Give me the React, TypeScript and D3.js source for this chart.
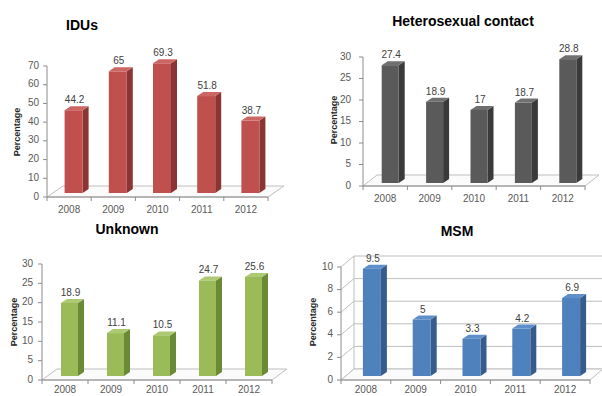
import React from "react";
import * as d3 from "d3";

const years = ["2008", "2009", "2010", "2011", "2012"];
const iduValues = [44.2, 65, 69.3, 51.8, 38.7];
const heteroValues = [27.4, 18.9, 17, 18.7, 28.8];
const unknownValues = [18.9, 11.1, 10.5, 24.7, 25.6];
const msmValues = [9.5, 5, 3.3, 4.2, 6.9];
const iduTicks = [0, 10, 20, 30, 40, 50, 60, 70];
const heteroTicks = [0, 5, 10, 15, 20, 25, 30];
const unknownTicks = [0, 5, 10, 15, 20, 25, 30];
const msmTicks = [0, 2, 4, 6, 8, 10];
const titles = ["IDUs", "Heterosexual contact", "Unknown", "MSM"];

type Colors = { front: string; side: string; top: string };

type PanelProps = {
  title: string;
  values: number[];
  ticks: number[];
  titleX: number;
  titleY: number;
  x0: number;
  x1: number;
  y0: number;
  yTop: number;
  depth: [number, number];
  barShift: [number, number];
  barWidth: number;
  labelRight: number;
  pctX: number;
  pctY: number;
  xLabelY: number;
  colors: Colors;
  grid?: boolean;
  gridRight?: number;
};

const FONT = "'Liberation Sans', Arial, sans-serif";

function Panel(p: PanelProps) {
  const y = d3
    .scaleLinear()
    .domain([0, p.ticks[p.ticks.length - 1]])
    .range([p.y0, p.yTop]);
  const x = d3.scaleBand<string>().domain(years).range([p.x0, p.x1]).padding(0);
  const [dx, dy] = p.depth;
  const bd: [number, number] = [6, -4];
  const axisColor = "#8c8c8c";
  const floorColor = "#bfbfbf";
  return (
    <g>
      <text
        x={p.titleX}
        y={p.titleY}
        textAnchor="middle"
        dominantBaseline="middle"
        fontFamily={FONT}
        fontWeight="bold"
        fontSize={14}
        fill="#000"
      >
        {p.title}
      </text>
      {p.grid &&
        p.ticks.map((t) => (
          <polyline
            key={"g" + t}
            points={`${p.x0},${y(t)} ${p.x0 + dx},${y(t) + dy} ${p.gridRight},${y(t) + dy}`}
            fill="none"
            stroke={floorColor}
            strokeWidth={1}
          />
        ))}
      {p.grid && (
        <line
          x1={p.x0 + dx}
          x2={p.x0 + dx}
          y1={y(0) + dy}
          y2={y(p.ticks[p.ticks.length - 1]) + dy}
          stroke={floorColor}
        />
      )}
      <polygon
        points={`${p.x0},${p.y0} ${p.x1},${p.y0} ${p.x1 + dx},${p.y0 + dy} ${p.x0 + dx},${p.y0 + dy}`}
        fill="#fbfbfb"
        stroke={floorColor}
        strokeWidth={1}
      />
      <line x1={p.x0} x2={p.x0} y1={p.y0} y2={p.yTop} stroke={axisColor} />
      {p.ticks.map((t) => (
        <g key={"t" + t}>
          <line x1={p.x0 - 4} x2={p.x0} y1={y(t)} y2={y(t)} stroke={axisColor} />
          <text
            x={p.labelRight}
            y={y(t)}
            textAnchor="end"
            dominantBaseline="middle"
            fontFamily={FONT}
            fontSize={10}
            fill="#595959"
          >
            {t}
          </text>
        </g>
      ))}
      <text
        transform={`translate(${p.pctX},${p.pctY}) rotate(-90)`}
        textAnchor="middle"
        dominantBaseline="middle"
        fontFamily={FONT}
        fontWeight="bold"
        fontSize={9}
        fill="#262626"
      >
        Percentage
      </text>
      <line x1={p.x0} x2={p.x1} y1={p.y0} y2={p.y0} stroke={axisColor} />
      {years.map((yr) => (
        <line
          key={"xt" + yr}
          x1={x(yr)!}
          x2={x(yr)!}
          y1={p.y0}
          y2={p.y0 + 4}
          stroke={axisColor}
        />
      ))}
      <line x1={p.x1} x2={p.x1} y1={p.y0} y2={p.y0 + 4} stroke={axisColor} />
      {years.map((yr) => (
        <text
          key={"xl" + yr}
          x={x(yr)! + x.bandwidth() / 2}
          y={p.xLabelY}
          textAnchor="middle"
          dominantBaseline="middle"
          fontFamily={FONT}
          fontSize={10}
          fill="#595959"
        >
          {yr}
        </text>
      ))}
      {p.values.map((v, i) => {
        const cx = x(years[i])! + x.bandwidth() / 2 + p.barShift[0];
        const w = p.barWidth;
        const left = cx - w / 2;
        const right = cx + w / 2;
        const top = y(v) + p.barShift[1];
        const bottom = y(0) + p.barShift[1];
        return (
          <g key={"b" + i}>
            <polygon
              points={`${right},${top} ${right + bd[0]},${top + bd[1]} ${right + bd[0]},${bottom + bd[1]} ${right},${bottom}`}
              fill={p.colors.side}
            />
            <polygon
              points={`${left},${top} ${left + bd[0]},${top + bd[1]} ${right + bd[0]},${top + bd[1]} ${right},${top}`}
              fill={p.colors.top}
            />
            <rect x={left} y={top} width={w} height={bottom - top} fill={p.colors.front} />
            <text
              x={cx + 1}
              y={top + bd[1] - 3}
              textAnchor="middle"
              fontFamily={FONT}
              fontSize={10}
              fill="#404040"
            >
              {v}
            </text>
          </g>
        );
      })}
    </g>
  );
}

export default function App() {
  return (
    <svg
      width={602}
      height={396}
      style={{ position: "absolute", left: 0, top: 0, background: "#fff" }}
    >
      <rect width={602} height={396} fill="#fff" />
      <Panel
        title={titles[0]}
        values={iduValues}
        ticks={iduTicks}
        titleX={82}
        titleY={26}
        x0={47}
        x1={268}
        y0={197}
        yTop={66}
        depth={[16, -11]}
        barShift={[4.5, -4]}
        barWidth={18}
        labelRight={39}
        pctX={18}
        pctY={132}
        xLabelY={210}
        colors={{ front: "#C0504D", side: "#8A3533", top: "#CC6663" }}
      />
      <Panel
        title={titles[1]}
        values={heteroValues}
        ticks={heteroTicks}
        titleX={463}
        titleY={22}
        x0={363}
        x1={585}
        y0={186}
        yTop={57}
        depth={[14, -11]}
        barShift={[5, -3]}
        barWidth={17}
        labelRight={351}
        pctX={335}
        pctY={120}
        xLabelY={199}
        colors={{ front: "#5A5A5A", side: "#3A3A3A", top: "#707070" }}
      />
      <Panel
        title={titles[2]}
        values={unknownValues}
        ticks={unknownTicks}
        titleX={127}
        titleY={230}
        x0={42}
        x1={272}
        y0={380}
        yTop={264}
        depth={[15, -11]}
        barShift={[4.5, -4]}
        barWidth={17}
        labelRight={33}
        pctX={15}
        pctY={322}
        xLabelY={390}
        colors={{ front: "#9BBB59", side: "#6B8A35", top: "#ADC972" }}
      />
      <Panel
        title={titles[3]}
        values={msmValues}
        ticks={msmTicks}
        titleX={457}
        titleY={232}
        x0={341}
        x1={590}
        y0={380}
        yTop={267}
        depth={[13, -11]}
        barShift={[6, -4]}
        barWidth={18}
        labelRight={333}
        pctX={314}
        pctY={322}
        xLabelY={390}
        colors={{ front: "#4F81BD", side: "#355C8A", top: "#5E8FCB" }}
        grid
        gridRight={602}
      />
    </svg>
  );
}
